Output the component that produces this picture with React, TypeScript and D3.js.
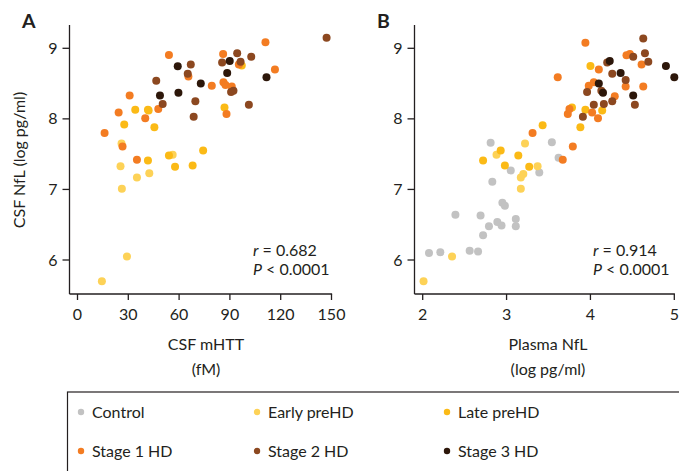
import React from "react";
import * as d3 from "d3";

const groups = ["Control", "Early preHD", "Late preHD", "Stage 1 HD", "Stage 2 HD", "Stage 3 HD"];
const groupColors = ["#c2c2c2", "#fdd257", "#fbba16", "#f37c22", "#8c4820", "#2d170a"];

const xTicksA = [0, 30, 60, 90, 120, 150];
const xTicksB = [2, 3, 4, 5];
const yTicks = [6, 7, 8, 9];

// Panel A: CSF mHTT (fM) vs CSF NfL (log pg/ml)
const aEarly: [number, number][] = [
  [26.0, 7.65], [56.2, 7.49], [25.4, 7.33], [35.1, 7.17], [42.4, 7.23], [26.2, 7.01], [29.2, 6.05], [14.4, 5.70],
];
const aLate: [number, number][] = [
  [97.0, 8.755], [34.1, 8.13], [41.6, 8.13], [42.0, 8.12], [86.8, 8.16], [27.6, 7.92], [45.4, 7.88],
  [41.6, 7.41], [54.0, 7.48], [74.2, 7.55], [57.6, 7.32], [68.0, 7.34],
];
const aStage1: [number, number][] = [
  [111.0, 9.085], [54.0, 8.906], [86.0, 8.92], [95.3, 8.77], [65.5, 8.60], [116.6, 8.70], [79.3, 8.47],
  [86.2, 8.52], [87.4, 8.48], [91.1, 8.46], [30.8, 8.33], [24.3, 8.09], [47.7, 8.14], [40.0, 8.01],
  [88.0, 8.07], [16.0, 7.80], [26.6, 7.61], [35.1, 7.42],
];
const aStage2: [number, number][] = [
  [147.1, 9.15], [94.3, 8.93], [102.6, 8.88], [85.4, 8.80], [96.3, 8.81], [66.9, 8.77], [65.1, 8.64],
  [46.5, 8.54], [90.7, 8.38], [92.1, 8.40], [50.3, 8.21], [69.6, 8.25], [101.2, 8.20], [68.6, 8.03],
];
const aStage3: [number, number][] = [
  [89.9, 8.82], [59.2, 8.745], [88.4, 8.65], [111.6, 8.59], [72.8, 8.50], [48.7, 8.33], [59.6, 8.37],
];

// Panel B: Plasma NfL (log pg/ml) vs CSF NfL (log pg/ml)
const bControl: [number, number][] = [
  [2.075, 6.10], [2.21, 6.11], [2.39, 6.64], [2.56, 6.13], [2.66, 6.12], [2.69, 6.63], [2.72, 6.35],
  [2.79, 6.48], [2.89, 6.54], [2.94, 6.49], [2.95, 6.81], [2.98, 6.77], [3.11, 6.58], [3.11, 6.48],
  [2.83, 7.11], [2.81, 7.66], [3.05, 7.27], [3.39, 7.24], [3.54, 7.67], [3.62, 7.45],
];
const bEarly: [number, number][] = [
  [2.01, 5.70], [2.35, 6.05], [2.88, 7.49], [3.17, 7.17], [3.20, 7.22], [3.17, 7.01], [3.22, 7.65], [3.37, 7.33],
];
const bLate: [number, number][] = [
  [2.72, 7.41], [2.93, 7.55], [2.98, 7.34], [3.14, 7.48], [3.27, 7.32], [3.43, 7.91], [3.78, 8.16],
  [3.88, 7.88], [3.94, 8.13], [4.00, 8.75], [4.14, 8.12],
];
const bStage1: [number, number][] = [
  [3.31, 7.80], [3.67, 7.42], [3.79, 7.61], [3.61, 8.59], [3.73, 8.07], [3.75, 8.14], [3.94, 9.08],
  [3.98, 8.47], [4.04, 8.52], [4.02, 8.09], [4.09, 8.01], [4.10, 8.70], [4.29, 8.32], [4.42, 8.46],
  [4.43, 8.90], [4.47, 8.92], [4.61, 8.77], [4.63, 8.46],
];
const bStage2: [number, number][] = [
  [3.91, 8.03], [3.96, 8.38], [4.04, 8.20], [4.13, 8.40], [4.16, 8.21], [4.20, 8.80], [4.26, 8.64],
  [4.26, 8.25], [4.42, 8.55], [4.51, 8.88], [4.53, 8.20], [4.63, 9.14], [4.65, 8.93], [4.69, 8.81],
];
const bStage3: [number, number][] = [
  [4.10, 8.50], [4.15, 8.37], [4.23, 8.82], [4.36, 8.65], [4.51, 8.33], [4.90, 8.75], [5.00, 8.59],
];

const panelASeries = [[] as [number, number][], aEarly, aLate, aStage1, aStage2, aStage3];
const panelBSeries = [bControl, bEarly, bLate, bStage1, bStage2, bStage3];

const FONT = "Lato, 'Open Sans', sans-serif";
const FS = 16;
const AX = "#231f20";

const yScale = d3.scaleLinear().domain([6, 9]).range([260, 48.3]);
const xA = d3.scaleLinear().domain([0, 150]).range([77.5, 331.5]);
const xB = d3.scaleLinear().domain([2, 5]).range([422.7, 674.3]);

function Panel(props: {
  x: d3.ScaleLinear<number, number>;
  axisX: number;
  xTicks: number[];
  series: [number, number][][];
  letter: string;
  letterX: number;
  title1: string;
  title2: string;
  titleX: number;
  r: string;
  statX: number;
  showYLabel: boolean;
}) {
  const { x, axisX, xTicks, series, letter, letterX, title1, title2, titleX, r, statX, showYLabel } = props;
  const axisBottom = 294;
  const axisTop = 25;
  const xEnd = x(xTicks[xTicks.length - 1]);
  return (
    <g>
      <text x={letterX} y={27.5} fontSize={19.5} fontWeight="bold" fontFamily={FONT} fill={AX}>{letter}</text>
      {showYLabel && (
        <text transform={`translate(19,160) rotate(-90)`} textAnchor="middle" dy="0.35em" fontSize={FS} fontFamily={FONT} fill={AX}>
          CSF NfL (log pg/ml)
        </text>
      )}
      <line x1={axisX} x2={axisX} y1={axisTop} y2={axisBottom} stroke={AX} strokeWidth={1.3} />
      <line x1={axisX} x2={xEnd + 0.6} y1={axisBottom} y2={axisBottom} stroke={AX} strokeWidth={1.3} />
      {yTicks.map((t) => (
        <g key={"y" + t}>
          <line x1={axisX - 7} x2={axisX} y1={yScale(t)} y2={yScale(t)} stroke={AX} strokeWidth={1.3} />
          <text x={axisX - 12} y={yScale(t)} dy="0.35em" textAnchor="end" fontSize={FS} fontFamily={FONT} fill={AX}>{t}</text>
        </g>
      ))}
      {xTicks.map((t) => (
        <g key={"x" + t}>
          <line x1={x(t)} x2={x(t)} y1={axisBottom} y2={axisBottom + 6} stroke={AX} strokeWidth={1.3} />
          <text x={x(t)} y={314.5} dy="0.35em" textAnchor="middle" fontSize={FS} fontFamily={FONT} fill={AX}>{t}</text>
        </g>
      ))}
      <text x={titleX} y={344.5} dy="0.35em" textAnchor="middle" fontSize={FS} fontFamily={FONT} fill={AX}>{title1}</text>
      <text x={titleX} y={369} dy="0.35em" textAnchor="middle" fontSize={FS} fontFamily={FONT} fill={AX}>{title2}</text>
      {series.map((pts, gi) =>
        pts.map((p, i) => (
          <circle key={gi + "-" + i} cx={x(p[0])} cy={yScale(p[1])} r={4} fill={groupColors[gi]} />
        ))
      )}
      <text x={statX} y={250} dy="0.35em" fontSize={FS} fontFamily={FONT} fill={AX}>
        <tspan fontStyle="italic">r</tspan> = {r}
      </text>
      <text x={statX} y={269} dy="0.35em" fontSize={FS} fontFamily={FONT} fill={AX}>
        <tspan fontStyle="italic">P</tspan> &lt; 0.0001
      </text>
    </g>
  );
}

const legendCols = [81, 257, 447];
const legendRows = [412, 451];

export default function App() {
  return (
    <div style={{ position: "absolute", left: 0, top: 0 }}>
      <svg width={679} height={471} style={{ display: "block", background: "#fff" }}>
        <Panel
          x={xA} axisX={69.5} xTicks={xTicksA} series={panelASeries} letter="A" letterX={22}
          title1="CSF mHTT" title2="(fM)" titleX={206} r="0.682" statX={253} showYLabel={true}
        />
        <Panel
          x={xB} axisX={414.5} xTicks={xTicksB} series={panelBSeries} letter="B" letterX={377}
          title1="Plasma NfL" title2="(log pg/ml)" titleX={548} r="0.914" statX={593} showYLabel={false}
        />
        <rect x={67.5} y={392} width={640} height={100} fill="none" stroke={AX} strokeWidth={1.2} />
        {groups.map((g, i) => {
          const cx = legendCols[i % 3];
          const cy = legendRows[Math.floor(i / 3)];
          return (
            <g key={g}>
              <circle cx={cx} cy={cy} r={3.2} fill={groupColors[i]} />
              <text x={cx + 11} y={cy} dy="0.35em" fontSize={FS} fontFamily={FONT} fill={AX}>{g}</text>
            </g>
          );
        })}
      </svg>
    </div>
  );
}
